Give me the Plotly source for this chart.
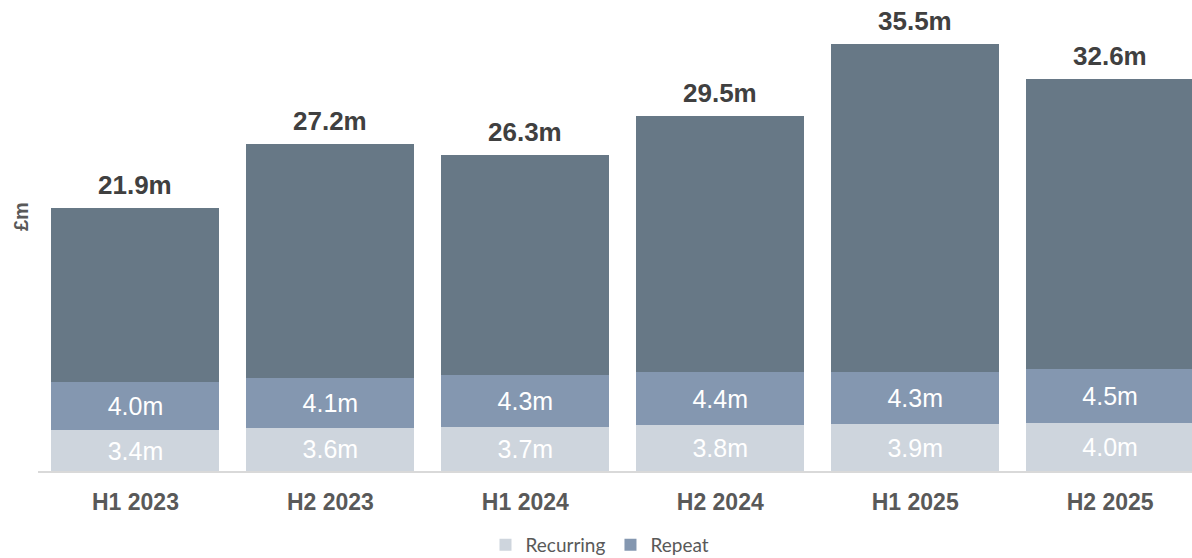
import plotly.graph_objects as go

# Half-year periods
periods = ["H1 2023", "H2 2023", "H1 2024", "H2 2024", "H1 2025", "H2 2025"]

# Revenue components (£m)
recurring = [3.4, 3.6, 3.7, 3.8, 3.9, 4.0]
repeat = [4.0, 4.1, 4.3, 4.4, 4.3, 4.5]
other = [14.5, 19.5, 18.3, 21.3, 27.3, 24.1]

# Period totals (£m)
totals = [21.9, 27.2, 26.3, 29.5, 35.5, 32.6]

FONT = "Arial, Liberation Sans, sans-serif"
C_RECURRING = "#CED5DD"
C_REPEAT = "#8497B0"
C_OTHER = "#677886"

fig = go.Figure()

seg_text = dict(family=FONT, size=25, color="white")

fig.add_trace(go.Bar(
    x=periods, y=recurring, name="Recurring",
    marker=dict(color=C_RECURRING, line=dict(width=0)),
    texttemplate="%{y:.1f}m", textposition="inside",
    insidetextanchor="middle", textangle=0, textfont=seg_text,
    hoverinfo="skip",
))
fig.add_trace(go.Bar(
    x=periods, y=repeat, name="Repeat",
    marker=dict(color=C_REPEAT, line=dict(width=0)),
    texttemplate="%{y:.1f}m", textposition="inside",
    insidetextanchor="middle", textangle=0, textfont=seg_text,
    hoverinfo="skip",
))
fig.add_trace(go.Bar(
    x=periods, y=other, name="Other",
    marker=dict(color=C_OTHER, line=dict(width=0)),
    showlegend=False, hoverinfo="skip",
))

# Total labels above each stack
for p, t in zip(periods, totals):
    fig.add_annotation(
        x=p, y=t, xref="x", yref="y",
        text=f"<b>{t:.1f}m</b>", showarrow=False,
        yanchor="bottom", yshift=6,
        font=dict(family=FONT, size=26, color="#404040"),
    )

# Axis unit label, placed in pixel terms relative to the plot area
fig.add_annotation(
    xref="paper", yref="paper",
    x=(21 - 38) / 1154, y=(471 - 217) / 471,
    text="<b>£m</b>", showarrow=False, textangle=-90,
    xanchor="center", yanchor="middle",
    font=dict(family=FONT, size=20, color="#595959"),
)

fig.update_layout(
    width=1192, height=558,
    margin=dict(l=38, r=0, t=0, b=87, autoexpand=False),
    barmode="stack", bargap=0.138,
    plot_bgcolor="white", paper_bgcolor="white",
    showlegend=True,
    legend=dict(
        orientation="h", x=0.487, xanchor="center",
        yref="container", y=(558 - 545) / 558, yanchor="middle",
        font=dict(family="Lato, Open Sans, sans-serif", size=19, color="#595959"),
        itemsizing="constant", traceorder="normal",
    ),
    xaxis=dict(
        range=[-0.5, 5.42],
        showgrid=False, zeroline=False,
        showline=True, linecolor="#D9D9D9", linewidth=2,
        ticks="", ticklabelstandoff=9, automargin=False,
        tickfont=dict(family=FONT, size=23, color="#595959", weight="bold"),
    ),
    yaxis=dict(
        range=[0, 39.18],
        showgrid=False, zeroline=False, showline=False,
        showticklabels=False, ticks="", automargin=False,
    ),
    uniformtext=dict(mode=False),
)

fig.write_html("out.html")
